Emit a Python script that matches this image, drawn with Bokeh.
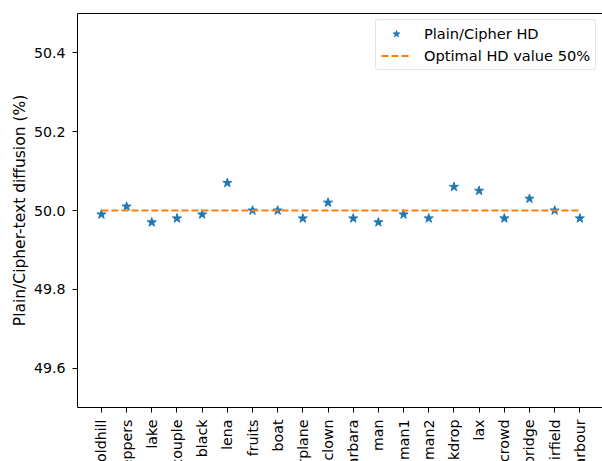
import math
from bokeh.plotting import figure
from bokeh.layouts import column
from bokeh.models import Range1d, FixedTicker, Legend, LegendItem, LinearAxis
from bokeh.core.properties import value
from bokeh.embed import file_html
from bokeh.resources import INLINE

images = ["goldhill", "peppers", "lake", "couple", "black", "lena", "fruits", "boat",
          "airplane", "clown", "barbara", "man", "man1", "man2", "milkdrop", "lax",
          "crowd", "bridge", "airfield", "harbour"]
hd_values = [49.99, 50.01, 49.97, 49.98, 49.99, 50.07, 50.00, 50.00,
             49.98, 50.02, 49.98, 49.97, 49.99, 49.98, 50.06, 50.05,
             49.98, 50.03, 50.00, 49.98]
optimal = 50.0
y_ticks = [49.6, 49.8, 50.0, 50.2, 50.4]

xs = list(range(len(images)))
FONT = "DejaVu Sans"
FS = "14.2px"

x_range = Range1d(-0.95, 19.9)

p = figure(width=602, height=414, output_backend="svg", toolbar_location=None,
           x_range=x_range, y_range=Range1d(49.5, 50.5),
           min_border_left=77, min_border_top=13, min_border_right=0, min_border_bottom=7)

p.outline_line_color = None
p.xgrid.visible = False
p.ygrid.visible = False

bx = p.below[0]
ly = p.left[0]

for ax in (bx, ly):
    ax.major_label_text_font = FONT
    ax.major_label_text_font_size = FS
    ax.major_label_text_color = "black"
    ax.axis_line_color = "black"
    ax.major_tick_line_color = "black"
    ax.major_tick_out = 5
    ax.major_tick_in = 0
    ax.minor_tick_line_color = None
    ax.axis_label_text_font = FONT
    ax.axis_label_text_font_style = "normal"
    ax.axis_label_text_color = "black"

# x ticks only here; the category names are drawn in the strip below
bx.ticker = FixedTicker(ticks=xs)
bx.major_label_overrides = {i: "" for i in xs}
bx.major_label_text_font_size = "1px"
bx.major_label_standoff = 0

ly.ticker = FixedTicker(ticks=y_ticks)
ly.major_label_overrides = {t: f"{t:.1f}" for t in y_ticks}
ly.axis_label = "Plain/Cipher-text diffusion (%)"
ly.axis_label_text_font_size = "15.5px"
ly.major_label_standoff = 7
ly.axis_label_standoff = 2

# top spine (no right spine, as in the reference)
top = LinearAxis(ticker=FixedTicker(ticks=[]), axis_line_color="black",
                 major_tick_line_color=None, minor_tick_line_color=None,
                 major_label_text_font_size="1px", major_label_standoff=0)
p.add_layout(top, "above")

r1 = p.scatter(xs, hd_values, marker="star", size=9.5, color="#1f77b4")
r2 = p.line([xs[0], xs[-1]], [optimal, optimal], line_color="#ff7f0e", line_width=2,
            line_dash="7 3")

legend = Legend(items=[LegendItem(label="Plain/Cipher HD", renderers=[r1]),
                       LegendItem(label="Optimal HD value 50%", renderers=[r2])],
                location=(298, 337))
legend.label_text_font = FONT
legend.label_text_font_size = "14.6px"
legend.label_text_color = "black"
legend.border_line_color = "#cccccc"
legend.border_line_width = 1
legend.border_radius = 3
legend.background_fill_alpha = 0.8
legend.margin = 0
legend.padding = 5
legend.spacing = 5
legend.label_height = 17
legend.glyph_height = 17
legend.glyph_width = 30
legend.label_standoff = 13
p.add_layout(legend)

# strip holding the rotated category names (cut at the bottom edge like the reference)
p2 = figure(width=602, height=47, output_backend="svg", toolbar_location=None,
            x_range=x_range, y_range=Range1d(0, 1),
            x_axis_type=None, y_axis_type=None,
            min_border_left=77, min_border_top=0, min_border_right=0, min_border_bottom=0)
p2.outline_line_color = None
p2.text(x=xs, y=[1] * len(xs), text=images, angle=math.pi / 2, y_offset=5,
        text_align="right", text_baseline="middle",
        text_font=value(FONT), text_font_size=FS, text_color="black")

layout = column(p, p2, spacing=0)
open("out.html", "w").write(file_html(layout, INLINE))
